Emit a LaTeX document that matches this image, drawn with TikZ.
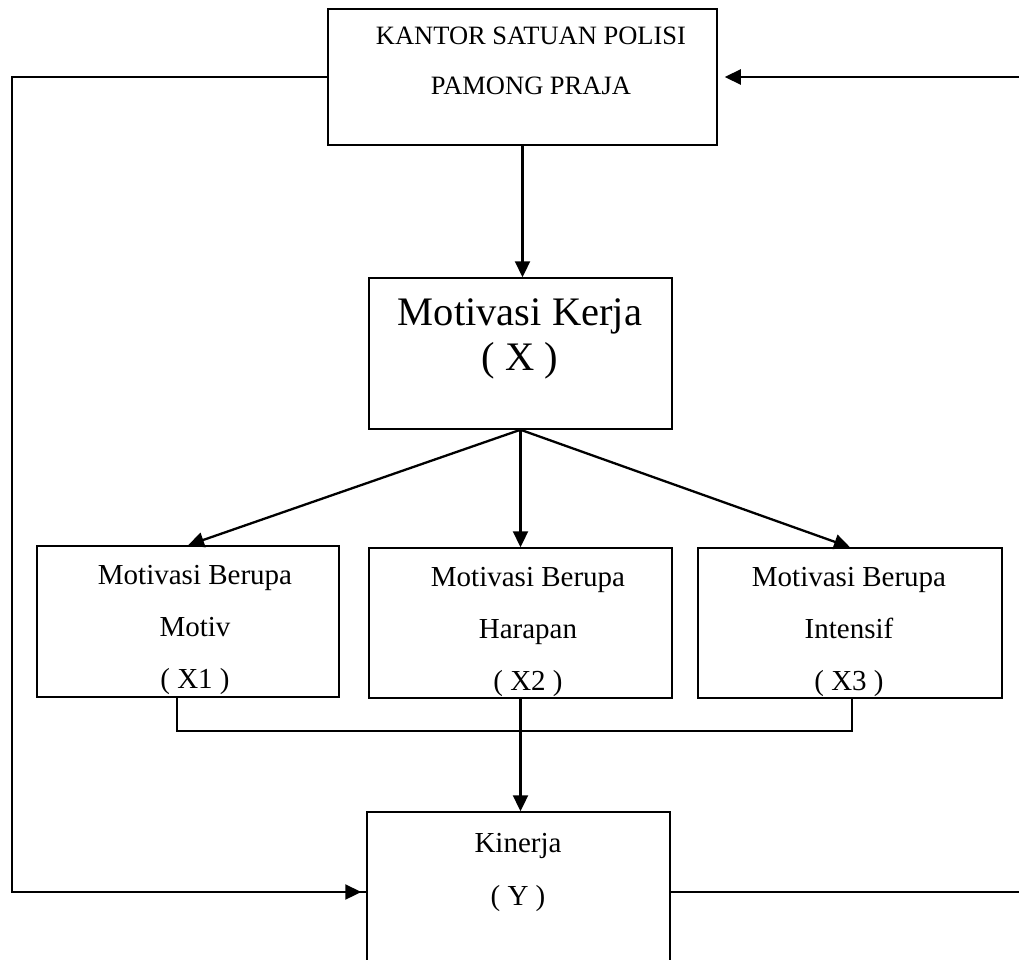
\documentclass[tikz,border=0pt]{standalone}
\usepackage{fontspec}
\setmainfont{Liberation Serif}
\usetikzlibrary{positioning, arrows.meta, calc}

\tikzset{
	kotak/.style={draw, line width=1.5pt, minimum width=303pt, minimum height=151pt, inner sep=0pt},
	teks/.style={font=\fontsize{29}{52}\selectfont, align=center, inner sep=0pt},
	panah/.style={-{Triangle[length=16pt, width=15pt]}, line width=2.3pt},
	garis/.style={line width=1.4pt}
}

\begin{document}
\begin{tikzpicture}[x=1pt, y=-1pt]
			\useasboundingbox (0,0) rectangle (1019,960);
			\node[kotak, minimum width=389pt, minimum height=136pt] (kantor) at (522.5,77) {};
			\node[kotak] (mk) at (520.5,353.5) {};
			\node[kotak, minimum width=302pt] (x1) at (188,621.5) {};
			\node[kotak, minimum height=150pt] (x2) at (520.5,623) {};
			\node[kotak, minimum width=304pt, minimum height=150pt] (x3) at (850,623) {};
			\node[kotak, minimum height=160pt] (kin) at (518.5,892) {};
			
			\node[teks, font=\fontsize{26.5}{50}\selectfont] (tkantor) at (531,61) {KANTOR SATUAN POLISI\\PAMONG PRAJA};
			\node[teks, font=\fontsize{40.5}{45}\selectfont] (tmk) at (520,338.5) {Motivasi Kerja\\( X )};
			\node[teks] (tx1) at (195,629.5) {Motivasi Berupa\\Motiv\\( X1 )};
			\node[teks] (tx2) at (528,632) {Motivasi Berupa\\Harapan\\( X2 )};
			\node[teks] (tx3) at (849,632) {Motivasi Berupa\\Intensif\\( X3 )};
			\node[teks, font=\fontsize{29}{53}\selectfont] (tkin) at (518,872.5) {Kinerja\\( Y )};
			
			\coordinate (kiriatas) at (12,77);
			\coordinate (kiribawah) at (12,892);
			\coordinate (kananatas) at (1019,77);
			\coordinate (kananbawah) at (1019,892);
			\coordinate (j1) at (177,731);
			\coordinate (j3) at (852,731);
			
			\draw[panah] (kantor.south) -- (kantor.south |- mk.north);
			\path[panah]
			(mk.south) edge (x1.north)
			(mk.south) edge (x2.north)
			(mk.south) edge (x3.north);
			\draw[garis] (j1 |- x1.south) -- (j1) -- (j3) -- (j3 |- x3.south);
			\draw[panah] (x2.south) -- (x2.south |- kin.north);
			\draw[garis] (kantor.west) -- (kiriatas) -- (kiribawah) -- (kin.west);
			\draw[panah, shorten >=5pt] (kiribawah) -- (kin.west);
			\draw[panah, shorten >=7pt] (kananatas) -- (kantor.east);
			\draw[garis] (kin.east) -- (kananbawah);
		\end{tikzpicture}
\end{document}
